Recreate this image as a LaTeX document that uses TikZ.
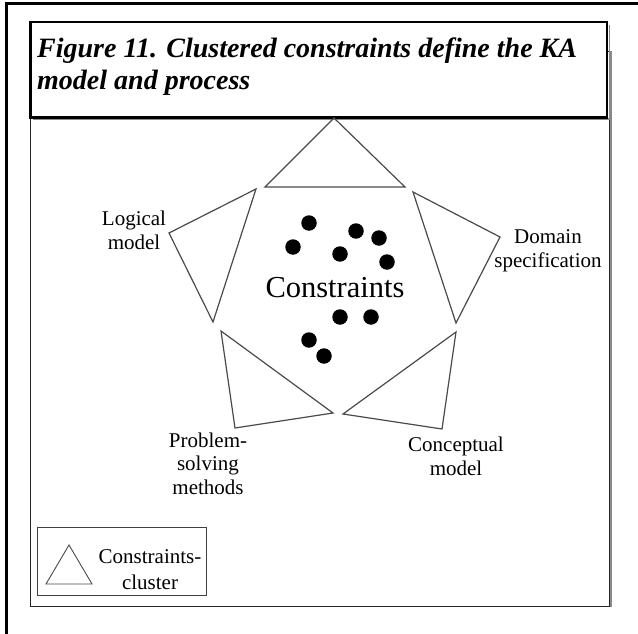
\documentclass[tikz,border=0pt]{standalone}
\usepackage{fontspec}
\setmainfont{Liberation Serif}
\definecolor{clusterline}{HTML}{4A4A4A}
\definecolor{shadowline}{HTML}{8A8A8A}
\begin{document}
\begin{tikzpicture}[x=1pt,y=-1pt,
  cluster/.style={draw=clusterline, line width=1.2pt, line join=miter},
  dot/.style={circle, fill=black, inner sep=0pt, minimum size=15.5pt},
  lbl/.style={font=\fontsize{21}{23.5}\selectfont, align=center, anchor=base, inner sep=0pt}]
\useasboundingbox (0,0) rectangle (638,634);
\fill[white] (0,0) rectangle (638,634);

% outer frame (top and left edges)
\draw[line width=3pt] (6.5,634) -- (6.5,3.5) -- (638,3.5);

% figure panel with a light shadow on the right
\draw[shadowline, line width=1.6pt] (610.8,51) -- (610.8,607);
\draw[black!85, line width=0.9pt] (30.5,51) rectangle (609.5,606);

% caption box
\draw[shadowline, line width=1.4pt] (33,119.2) -- (609.2,119.2) -- (609.2,25);
\draw[fill=white, line width=2.4pt] (30.5,22) rectangle (607,117.5);
\node[anchor=base west, inner sep=0pt, align=left,
      font=\fontsize{28}{32}\selectfont\bfseries\itshape] (caption) at (37,89)
  {Figure 11. Clustered constraints define the KA\\model and process};

% constraint clusters arranged around the centre
\draw[cluster] (334,118) -- (265,187) -- (405,187) -- cycle;
\draw[cluster] (256,189) -- (169,233) -- (213,322) -- cycle;
\draw[cluster] (413,192) -- (500,237) -- (456,323) -- cycle;
\draw[cluster] (221,331) -- (235,428) -- (333,413) -- cycle;
\draw[cluster] (343,414) -- (456,332) -- (442,429) -- cycle;

% individual constraints
\node[dot] (c1) at (309,223) {};
\node[dot] (c2) at (293,247) {};
\node[dot] (c3) at (356,231) {};
\node[dot] (c4) at (379,238) {};
\node[dot] (c5) at (340,254) {};
\node[dot] (c6) at (387,262) {};
\node[dot] (c7) at (340,317) {};
\node[dot] (c8) at (371,317) {};
\node[dot] (c9) at (309,340) {};
\node[dot] (c10) at (324,356) {};

\node[anchor=base, inner sep=0pt, font=\fontsize{30.5}{34}\selectfont] (centre) at (335,297) {Constraints};

% cluster labels (anchored at the baseline of their last line)
\node[lbl] (logical) at (134,249) {Logical\\model};
\node[lbl] (domain) at (548,267) {Domain\\specification};
\node[lbl] (psm) at (208,494) {Problem-\\solving\\methods};
\node[lbl] (conceptual) at (456,475) {Conceptual\\model};

% legend
\draw[black!75, line width=0.9pt] (37.5,527) rectangle (206,595);
\draw[clusterline, line width=0.9pt] (69,545) -- (46,584) -- (92,584) -- cycle;
\node[lbl, font=\fontsize{21}{26}\selectfont] (legend) at (150,589) {Constraints-\\cluster};
\end{tikzpicture}
\end{document}
